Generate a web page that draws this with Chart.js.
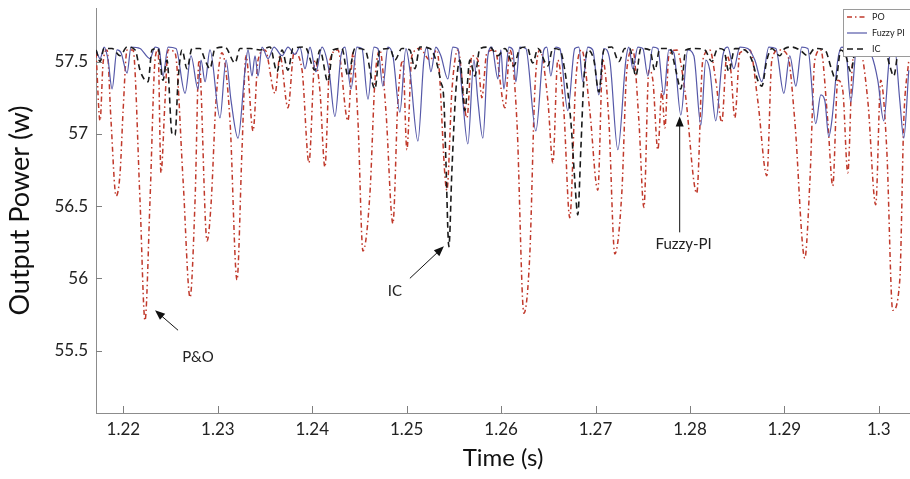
<!DOCTYPE html>
<html><head><meta charset="utf-8">
<script src="https://cdn.jsdelivr.net/npm/chart.js@4.4.0/dist/chart.umd.min.js"></script>
<style>html,body{margin:0;padding:0;background:#fff;}</style>
</head><body>
<canvas id="c" width="910" height="479"></canvas>
<script>
const seriesNames = ['PO', 'Fuzzy PI', 'IC'];

const poTime = [1.21711,1.21753,1.21785,1.21827,1.21869,1.21923,1.21965,1.21997,1.22039,1.22102,1.22176,1.22229,1.22282,1.22335,1.22367,1.22398,1.22441,1.22473,1.22547,1.22632,1.22706,1.22759,1.22801,1.22886,1.22928,1.22981,1.23044,1.23129,1.23203,1.23256,1.23299,1.23373,1.23426,1.23500,1.23606,1.23658,1.23743,1.23807,1.23892,1.23965,1.24029,1.24081,1.24134,1.24187,1.24272,1.24378,1.24431,1.24484,1.24537,1.24611,1.24664,1.24716,1.24780,1.24854,1.24907,1.24960,1.25002,1.25055,1.25140,1.25246,1.25320,1.25426,1.25479,1.25542,1.25638,1.25690,1.25754,1.25796,1.25849,1.25934,1.26040,1.26093,1.26167,1.26241,1.26304,1.26357,1.26410,1.26495,1.26548,1.26600,1.26664,1.26727,1.26791,1.26854,1.26939,1.27024,1.27077,1.27141,1.27204,1.27278,1.27331,1.27395,1.27459,1.27512,1.27565,1.27607,1.27660,1.27702,1.27734,1.27776,1.27861,1.27946,1.28072,1.28136,1.28210,1.28273,1.28337,1.28390,1.28432,1.28475,1.28528,1.28634,1.28718,1.28814,1.28867,1.28941,1.29036,1.29110,1.29216,1.29269,1.29322,1.29385,1.29459,1.29512,1.29565,1.29618,1.29671,1.29724,1.29798,1.29883,1.29967,1.30020,1.30084,1.30147,1.30222,1.30264,1.30317];
const poPower = [57.56,57.09,57.49,57.58,57.09,56.57,56.73,57.16,57.58,57.58,56.54,55.71,56.54,57.51,57.58,56.73,57.23,57.58,57.56,56.68,55.87,56.54,57.51,56.26,56.51,57.23,57.56,57.09,55.99,56.89,57.54,57.02,57.51,57.58,57.28,57.54,57.18,57.56,57.44,56.80,57.51,57.30,56.77,57.51,57.58,57.09,57.56,57.09,56.19,56.59,57.37,57.58,57.16,56.38,57.23,57.51,56.89,57.54,57.59,57.51,57.58,56.61,57.30,57.58,57.11,57.54,57.51,57.25,57.56,57.58,57.18,57.58,57.09,55.76,56.17,57.30,57.58,57.23,56.80,57.51,57.16,56.42,57.37,57.58,57.16,56.61,57.51,57.09,56.17,56.59,57.44,57.58,57.09,56.49,57.44,57.37,56.89,57.30,57.04,57.54,57.58,57.30,56.59,57.51,57.58,57.37,57.08,57.54,57.44,57.11,57.56,57.58,57.23,56.71,57.51,57.58,57.54,57.09,56.14,56.66,57.51,57.58,57.09,56.64,57.37,57.30,56.73,57.51,57.58,57.23,56.51,57.37,56.89,55.78,55.99,57.09,57.51];

const fuzzyTime = [1.21711,1.21753,1.21796,1.21838,1.21880,1.21933,1.21975,1.22039,1.22081,1.22176,1.22282,1.22335,1.22377,1.22419,1.22473,1.22557,1.22653,1.22716,1.22790,1.22822,1.22865,1.22917,1.23023,1.23087,1.23140,1.23214,1.23288,1.23320,1.23362,1.23394,1.23426,1.23468,1.23532,1.23595,1.23680,1.23743,1.23817,1.23870,1.23923,1.23976,1.24039,1.24103,1.24177,1.24240,1.24304,1.24346,1.24410,1.24473,1.24526,1.24590,1.24653,1.24695,1.24748,1.24801,1.24854,1.24928,1.24992,1.25034,1.25119,1.25182,1.25214,1.25256,1.25309,1.25362,1.25436,1.25489,1.25542,1.25585,1.25648,1.25712,1.25754,1.25807,1.25860,1.25902,1.25966,1.25997,1.26029,1.26082,1.26124,1.26156,1.26198,1.26262,1.26368,1.26452,1.26484,1.26526,1.26579,1.26622,1.26706,1.26780,1.26823,1.26865,1.26918,1.26971,1.27035,1.27088,1.27151,1.27236,1.27321,1.27353,1.27395,1.27448,1.27501,1.27554,1.27607,1.27660,1.27723,1.27776,1.27829,1.27903,1.27977,1.28041,1.28115,1.28168,1.28210,1.28273,1.28348,1.28401,1.28464,1.28528,1.28612,1.28687,1.28761,1.28835,1.28909,1.28994,1.29057,1.29121,1.29184,1.29248,1.29332,1.29385,1.29428,1.29470,1.29502,1.29565,1.29608,1.29650,1.29703,1.29766,1.29851,1.29925,1.29989,1.30052,1.30116,1.30169,1.30222,1.30264,1.30317];
const fuzzyPower = [57.58,57.52,57.60,57.51,57.31,57.58,57.56,57.42,57.60,57.59,57.52,57.60,57.59,57.40,57.60,57.59,57.28,57.54,57.31,57.51,57.36,57.58,57.11,57.51,57.23,56.97,57.44,57.58,57.40,57.54,57.40,57.60,57.52,57.60,57.54,57.60,57.55,57.60,57.45,57.60,57.43,57.60,57.44,57.12,57.54,57.60,57.31,57.60,57.59,57.24,57.60,57.59,57.33,57.60,57.54,57.15,57.59,57.44,56.95,57.51,57.60,57.43,57.60,57.54,57.38,57.60,57.59,57.30,56.93,57.51,57.23,56.97,57.54,57.60,57.38,57.58,57.31,57.60,57.58,57.36,57.60,57.59,57.02,57.58,57.60,57.40,57.60,57.59,57.16,57.59,57.60,57.36,57.60,57.58,57.27,57.59,57.51,56.89,57.51,57.60,57.45,57.60,57.59,57.40,57.60,57.59,57.27,57.58,57.56,57.13,57.58,57.54,57.06,57.51,57.44,57.09,57.54,57.60,57.45,57.60,57.59,57.51,57.36,57.60,57.59,57.28,57.54,57.33,57.60,57.59,57.07,57.27,57.23,56.98,57.09,57.51,57.60,57.58,57.22,57.60,57.60,57.54,57.37,57.09,57.54,57.58,57.23,56.97,57.44];

const icTime = [1.21711,1.21753,1.21796,1.21880,1.21965,1.22039,1.22124,1.22176,1.22229,1.22261,1.22303,1.22367,1.22419,1.22462,1.22515,1.22547,1.22579,1.22621,1.22674,1.22727,1.22811,1.22865,1.22917,1.22970,1.23076,1.23182,1.23235,1.23341,1.23447,1.23553,1.23627,1.23680,1.23743,1.23796,1.23923,1.24029,1.24081,1.24166,1.24219,1.24314,1.24378,1.24452,1.24558,1.24664,1.24716,1.24822,1.24875,1.24949,1.25034,1.25087,1.25140,1.25246,1.25309,1.25362,1.25394,1.25415,1.25447,1.25479,1.25521,1.25563,1.25616,1.25669,1.25722,1.25775,1.25881,1.25966,1.26040,1.26135,1.26198,1.26273,1.26336,1.26389,1.26495,1.26548,1.26622,1.26674,1.26738,1.26780,1.26812,1.26844,1.26876,1.26918,1.26982,1.27035,1.27088,1.27172,1.27247,1.27310,1.27363,1.27427,1.27480,1.27575,1.27628,1.27681,1.27787,1.27850,1.27903,1.27956,1.28051,1.28157,1.28231,1.28295,1.28358,1.28411,1.28475,1.28581,1.28655,1.28718,1.28761,1.28814,1.28867,1.28951,1.29004,1.29078,1.29163,1.29248,1.29322,1.29428,1.29502,1.29544,1.29597,1.29650,1.29703,1.29756,1.29851,1.29957,1.30063,1.30116,1.30158,1.30211,1.30317];
const icPower = [57.58,57.50,57.59,57.59,57.54,57.60,57.58,57.44,57.37,57.36,57.58,57.59,57.37,57.51,57.00,56.99,57.37,57.58,57.45,57.59,57.59,57.51,57.45,57.59,57.60,57.49,57.59,57.59,57.58,57.60,57.43,57.58,57.44,57.59,57.60,57.44,57.58,57.36,57.58,57.59,57.40,57.59,57.58,57.31,57.58,57.59,57.51,57.59,57.58,57.45,57.60,57.59,57.51,57.36,57.23,56.82,56.22,56.75,57.30,57.51,57.16,57.51,57.40,57.59,57.60,57.54,57.59,57.47,57.59,57.60,57.49,57.59,57.47,57.59,57.58,57.44,57.09,56.68,56.44,56.89,57.37,57.58,57.51,57.29,57.58,57.60,57.50,57.59,57.59,57.40,57.59,57.58,57.44,57.59,57.59,57.44,57.31,57.58,57.59,57.58,57.50,57.59,57.58,57.43,57.59,57.58,57.51,57.37,57.33,57.51,57.59,57.54,57.59,57.60,57.58,57.54,57.59,57.58,57.44,57.37,57.58,57.54,57.43,57.59,57.60,57.58,57.59,57.47,57.40,57.58,57.59];

const xTicks = [1.22, 1.23, 1.24, 1.25, 1.26, 1.27, 1.28, 1.29, 1.30];
const yTicks = [55.5, 56, 56.5, 57, 57.5];

const noteLabels = ['P&O', 'IC', 'Fuzzy-PI'];
const noteTail = [[1.22579, 55.642], [1.25034, 56.001], [1.27891, 56.319]];
const noteHead = [[1.22335, 55.780], [1.25394, 56.222], [1.27891, 57.120]];
const noteText = [[1.22790, 55.456], [1.24875, 55.912], [1.27933, 56.236]];

const FONT = 'Lato, "Open Sans", sans-serif';
const colors = ['#c0392b', '#5558a8', '#1a1a1a'];
const dashes = [[5, 3, 1.5, 3], [], [6, 4]];
const widths = [1.5, 1.2, 1.6];

const toPts = (ts, vs) => ts.map((t, i) => ({x: t, y: vs[i]}));

const inTicks = {
  id: 'inTicks',
  afterDraw(chart) {
    const {ctx, chartArea: a, scales: {x, y}} = chart;
    ctx.save();
    ctx.strokeStyle = '#7f7f7f'; ctx.lineWidth = 1;
    ctx.beginPath();
    xTicks.forEach(v => { const p = Math.round(x.getPixelForValue(v)) + 0.5; ctx.moveTo(p, a.bottom); ctx.lineTo(p, a.bottom - 7); });
    yTicks.forEach(v => { const p = Math.round(y.getPixelForValue(v)) + 0.5; ctx.moveTo(a.left, p); ctx.lineTo(a.left + 6, p); });
    ctx.stroke();
    ctx.restore();
  }
};

function arrow(ctx, x1, y1, x2, y2) {
  const ang = Math.atan2(y2 - y1, x2 - x1), L = 10, W = 4;
  const c = Math.cos(ang), s = Math.sin(ang);
  ctx.beginPath(); ctx.moveTo(x1, y1); ctx.lineTo(x2 - c * L * 0.7, y2 - s * L * 0.7); ctx.stroke();
  ctx.beginPath(); ctx.moveTo(x2, y2);
  ctx.lineTo(x2 - L * c + W * s, y2 - L * s - W * c);
  ctx.lineTo(x2 - L * c - W * s, y2 - L * s + W * c);
  ctx.closePath(); ctx.fill();
}

const notes = {
  id: 'notes',
  afterDatasetsDraw(chart) {
    const {ctx, scales: {x, y}} = chart;
    ctx.save();
    ctx.strokeStyle = '#111'; ctx.fillStyle = '#111'; ctx.lineWidth = 1;
    noteLabels.forEach((lab, i) => {
      arrow(ctx, x.getPixelForValue(noteTail[i][0]), y.getPixelForValue(noteTail[i][1]),
                 x.getPixelForValue(noteHead[i][0]), y.getPixelForValue(noteHead[i][1]));
      ctx.font = '15px ' + FONT; ctx.textAlign = 'center'; ctx.textBaseline = 'middle';
      ctx.fillStyle = '#222';
      ctx.fillText(lab, x.getPixelForValue(noteText[i][0]), y.getPixelForValue(noteText[i][1]));
      ctx.fillStyle = '#111';
    });
    ctx.restore();
  }
};

const legendBox = {
  id: 'legendBox',
  afterDraw(chart) {
    const {ctx} = chart;
    ctx.save();
    const bx = 843.5, by = 9.5, bw = 80, bh = 47;
    ctx.fillStyle = '#fff'; ctx.fillRect(bx, by, bw, bh);
    ctx.strokeStyle = '#9a9a9a'; ctx.lineWidth = 1; ctx.strokeRect(bx, by, bw, bh);
    seriesNames.forEach((n, i) => {
      const yy = 17 + i * 16;
      ctx.strokeStyle = colors[i]; ctx.lineWidth = widths[i]; ctx.setLineDash(dashes[i]);
      ctx.beginPath(); ctx.moveTo(847, yy); ctx.lineTo(867, yy); ctx.stroke();
      ctx.setLineDash([]);
      ctx.fillStyle = '#222'; ctx.font = '9px ' + FONT; ctx.textAlign = 'left'; ctx.textBaseline = 'middle';
      ctx.fillText(n, 872, yy);
    });
    ctx.restore();
  }
};

const fmt = v => String(+(+v).toFixed(2));

new Chart(document.getElementById('c'), {
  type: 'line',
  data: {
    datasets: [
      {label: seriesNames[0], data: toPts(poTime, poPower), borderColor: colors[0], borderDash: dashes[0], borderWidth: widths[0], order: 2},
      {label: seriesNames[1], data: toPts(fuzzyTime, fuzzyPower), borderColor: colors[1], borderDash: dashes[1], borderWidth: widths[1], order: 1},
      {label: seriesNames[2], data: toPts(icTime, icPower), borderColor: colors[2], borderDash: dashes[2], borderWidth: widths[2], order: 0}
    ]
  },
  options: {
    responsive: false, animation: false, devicePixelRatio: 1,
    layout: {padding: {top: 8, right: 0, left: 0, bottom: 0}},
    elements: {point: {radius: 0}, line: {cubicInterpolationMode: 'monotone', fill: false}},
    plugins: {legend: {display: false}, tooltip: {enabled: false}},
    scales: {
      x: {
        type: 'linear', min: 1.2171, max: 1.3033,
        afterBuildTicks: s => { s.ticks = xTicks.map(v => ({value: v})); },
        afterFit: s => { s.height = 66; s.paddingLeft = 0; s.paddingRight = 0; },
        grid: {display: true, drawOnChartArea: false, drawTicks: false},
        border: {display: true, color: '#8c8c8c', width: 1},
        ticks: {padding: 6, color: '#222', font: {family: FONT, size: 17}, callback: fmt, maxRotation: 0, autoSkip: false},
        title: {display: true, text: 'Time (s)', color: '#111', font: {family: FONT, size: 24}, padding: {top: 0, bottom: 6}}
      },
      y: {
        type: 'linear', min: 55.07, max: 57.87,
        afterBuildTicks: s => { s.ticks = yTicks.map(v => ({value: v})); },
        afterFit: s => { s.width = 96; s.paddingTop = 0; s.paddingBottom = 0; },
        grid: {display: true, drawOnChartArea: false, drawTicks: false},
        border: {display: true, color: '#8c8c8c', width: 1},
        ticks: {padding: 8, color: '#222', font: {family: FONT, size: 17}, callback: fmt},
        title: {display: true, text: 'Output Power (w)', color: '#111', font: {family: FONT, size: 27}, padding: {top: 4, bottom: 0}}
      }
    }
  },
  plugins: [inTicks, notes, legendBox]
});
</script>
</body></html>
